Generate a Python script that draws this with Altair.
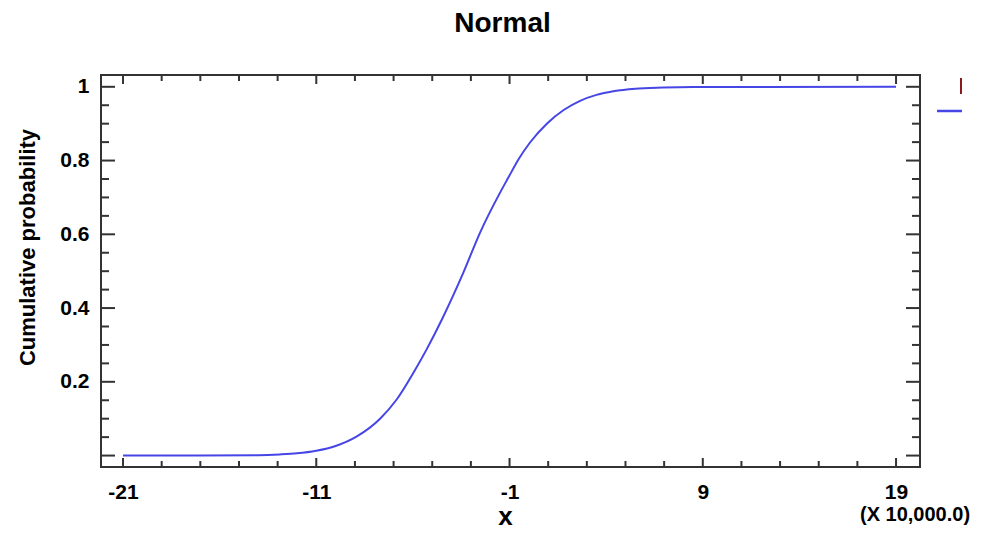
import altair as alt
import pandas as pd

# ---- data (x in units of 10,000) ----
x_vals = [-21, -17, -14, -12.9, -12, -11, -10, -8.9, -7.7, -6.84, -5.98, -5.29, -4.5,
          -3.39, -2.53, -1.49, -1.06, -0.54, 0.06, 0.93, 1.8, 2.65, 3.5, 4.37, 5.5,
          6.94, 8.5, 19]
cum_prob = [0, 0, 0.001, 0.003, 0.006, 0.013, 0.026, 0.052, 0.10, 0.152, 0.224, 0.288,
            0.369, 0.496, 0.604, 0.713, 0.754, 0.803, 0.849, 0.900, 0.937, 0.962, 0.978,
            0.988, 0.995, 0.998, 0.9995, 1.0]

x_major = [-21, -11, -1, 9, 19]
x_minor = [-19, -17, -15, -13, -9, -7, -5, -3, 1, 3, 5, 7, 11, 13, 15, 17]
y_major = [0, 0.2, 0.4, 0.6, 0.8, 1]
y_labels = [0.2, 0.4, 0.6, 0.8, 1]
y_minor = [0.05, 0.1, 0.15, 0.25, 0.3, 0.35, 0.45, 0.5, 0.55, 0.65, 0.7, 0.75, 0.85, 0.9, 0.95]

title_text = "Normal"
x_title = "x"
y_title = "Cumulative probability"
scale_note = "(X 10,000.0)"

W, H = 819, 392
FONT = "Liberation Sans"
FRAME = "#333333"
LINE = "#4646E6"

xscale = alt.Scale(domain=[-22.14, 20.24], nice=False, zero=False)
yscale = alt.Scale(domain=[-0.031, 1.032], nice=False, zero=False)

x_axis = alt.Axis(
    values=x_major, labelExpr="datum.value + ''", ticks=False, domain=False, grid=False,
    labelFont=FONT, labelFontWeight="bold", labelFontSize=21, labelColor="black",
    labelPadding=14, title=x_title, titleFont=FONT, titleFontWeight="bold",
    titleFontSize=26, titleColor="black", titleX=404, titleY=62,
    titleAlign="center", titleBaseline="bottom")
y_axis = alt.Axis(
    values=y_labels, labelExpr="datum.value + ''", ticks=False, domain=False, grid=False,
    labelFont=FONT, labelFontWeight="bold", labelFontSize=21, labelColor="black",
    labelPadding=12, title=y_title, titleFont=FONT, titleFontWeight="bold",
    titleFontSize=22, titleColor="black", titleAngle=270, titleX=-74, titleY=172,
    titleAlign="center", titleBaseline="middle")

df = pd.DataFrame({"x": x_vals, "p": cum_prob})

line = alt.Chart(df).mark_line(color=LINE, strokeWidth=2, interpolate="monotone").encode(
    x=alt.X("x:Q", scale=xscale, axis=x_axis),
    y=alt.Y("p:Q", scale=yscale, axis=y_axis),
)


def xticks(vals, length, width):
    d = pd.DataFrame({"x": vals})
    bottom = alt.Chart(d).mark_rule(color=FRAME, strokeWidth=width).encode(
        x=alt.X("x:Q", scale=xscale, axis=x_axis), y=alt.value(H), y2=alt.value(H - length))
    top = alt.Chart(d).mark_rule(color=FRAME, strokeWidth=width).encode(
        x=alt.X("x:Q", scale=xscale, axis=x_axis), y=alt.value(0), y2=alt.value(length))
    return [bottom, top]


def yticks(vals, length, width):
    d = pd.DataFrame({"p": vals})
    left = alt.Chart(d).mark_rule(color=FRAME, strokeWidth=width).encode(
        y=alt.Y("p:Q", scale=yscale, axis=y_axis), x=alt.value(0), x2=alt.value(length))
    right = alt.Chart(d).mark_rule(color=FRAME, strokeWidth=width).encode(
        y=alt.Y("p:Q", scale=yscale, axis=y_axis), x=alt.value(W), x2=alt.value(W - length))
    return [left, right]


ticks = (xticks(x_major, 9, 2) + xticks(x_minor, 6, 2) +
         yticks(y_major, 14, 2) + yticks(y_minor, 8, 2))

note = alt.Chart(pd.DataFrame({"t": [scale_note]})).mark_text(
    font=FONT, fontWeight="bold", fontSize=20, color="black",
    align="center", baseline="alphabetic").encode(
    text="t:N", x=alt.value(814), y=alt.value(446))

one = pd.DataFrame({"k": [0]})
leg_red = alt.Chart(one).mark_rule(color="#8B1A1A", strokeWidth=2).encode(
    x=alt.value(860), y=alt.value(3), y2=alt.value(19))
leg_blue = alt.Chart(one).mark_rule(color=LINE, strokeWidth=2.5).encode(
    x=alt.value(836), x2=alt.value(861), y=alt.value(36))

chart = alt.layer(line, *ticks, note, leg_red, leg_blue).properties(
    width=W, height=H,
    title=alt.TitleParams(text=title_text, font=FONT, fontWeight="bold", fontSize=28,
                          color="black", anchor="middle", dx=-8, offset=36),
    autosize=alt.AutoSizeParams(type="none"),
    padding={"left": 93, "top": 67, "right": 56, "bottom": 62},
).configure(background="white").configure_view(stroke=FRAME, strokeWidth=2)

chart.save("out.html", embed_options={"renderer": "svg", "actions": False})
